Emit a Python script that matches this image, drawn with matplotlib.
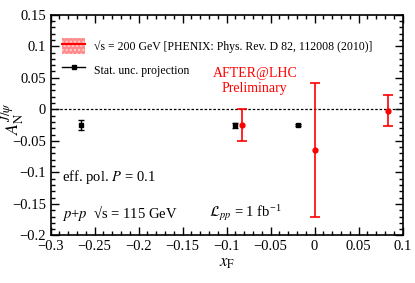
import matplotlib.pyplot as plt
from matplotlib.patches import Patch
from matplotlib.lines import Line2D
from matplotlib.ticker import MultipleLocator

plt.rcParams['font.family'] = ['Liberation Serif', 'DejaVu Serif']
plt.rcParams['mathtext.fontset'] = 'stix'

# AFTER@LHC statistical projection (black)
proj_x = [-0.265, -0.09, -0.019]
proj_y = [-0.025, -0.025, -0.025]
proj_err = [0.008, 0.004, 0.002]

# PHENIX 200 GeV data (red)
phenix_x = [-0.083, 0.0, 0.084]
phenix_y = [-0.025, -0.064, -0.002]
phenix_err = [0.025, 0.106, 0.025]

fig = plt.figure(figsize=(4.15, 2.83), dpi=100)
ax = fig.add_axes([0.122, 0.168, 0.848, 0.78])

ax.axhline(0, color='black', linewidth=0.9, linestyle=(0, (2, 1.5)))

ax.errorbar(phenix_x, phenix_y, yerr=phenix_err, fmt='o', color='red',
            markersize=3.5, elinewidth=1.2, capsize=3.5, capthick=1.2)
ax.errorbar(proj_x, proj_y, yerr=proj_err, fmt='s', color='black',
            markersize=3.5, elinewidth=1.0, capsize=2, capthick=1.0)

ax.xaxis.set_major_locator(MultipleLocator(0.05))
ax.xaxis.set_minor_locator(MultipleLocator(0.01))
ax.yaxis.set_major_locator(MultipleLocator(0.05))
ax.yaxis.set_minor_locator(MultipleLocator(0.01))
ax.tick_params(which='both', direction='in', top=True, right=True, labelsize=10.5)
ax.tick_params(which='major', length=6, width=1)
ax.tick_params(which='minor', length=3, width=1)
for s in ax.spines.values():
    s.set_linewidth(1.2)

xt = [-0.3, -0.25, -0.2, -0.15, -0.1, -0.05, 0, 0.05, 0.1]
yt = [-0.2, -0.15, -0.1, -0.05, 0, 0.05, 0.1, 0.15]
ax.set_xticks(xt)
ax.set_xticklabels([f'{v:g}'.replace('-', '\u2212') for v in xt])
ax.set_yticks(yt)
ax.set_yticklabels([f'{v:g}'.replace('-', '\u2212') for v in yt])
ax.set_xlim(-0.3, 0.1)
ax.set_ylim(-0.2, 0.15)

ax.set_xlabel(r'$x_{\mathrm{F}}$', fontsize=12, labelpad=1)
ax.set_ylabel(r'$A_{\mathrm{N}}^{J/\psi}$', fontsize=13)
ax.yaxis.set_label_coords(-0.066, 0.53)

band = Patch(facecolor='#ff8c8c', edgecolor='#ffd0d0', hatch='....', linewidth=0)
rline = Line2D([], [], color='red', linewidth=1.5)
bl = Line2D([], [], color='black', marker='s', markersize=3.5, linewidth=1)
ax.legend([(band, rline), bl],
          ['\u221as = 200 GeV [PHENIX: Phys. Rev. D 82, 112008 (2010)]',
           'Stat. unc. projection'],
          loc='upper left', bbox_to_anchor=(0.0, 0.95), frameon=False,
          fontsize=8.5, handlelength=1.9, handleheight=1.8,
          labelspacing=0.6, borderaxespad=0.6)

ax.text(-0.068, 0.045, 'AFTER@LHC\nPreliminary', color='red', fontsize=10,
        ha='center', va='center', linespacing=1.15)
ax.text(-0.287, -0.108, r'eff. pol. $P$ = 0.1', fontsize=10.5, va='center')
ax.text(-0.287, -0.164, '$p$+$p$  \u221as = 115 GeV', fontsize=10.5, va='center')
ax.text(-0.12, -0.164, r'$\mathcal{L}_{pp}$ = 1 fb$^{\mathregular{-1}}$', fontsize=10.5, va='center')

fig.savefig('out.png', dpi=100)
